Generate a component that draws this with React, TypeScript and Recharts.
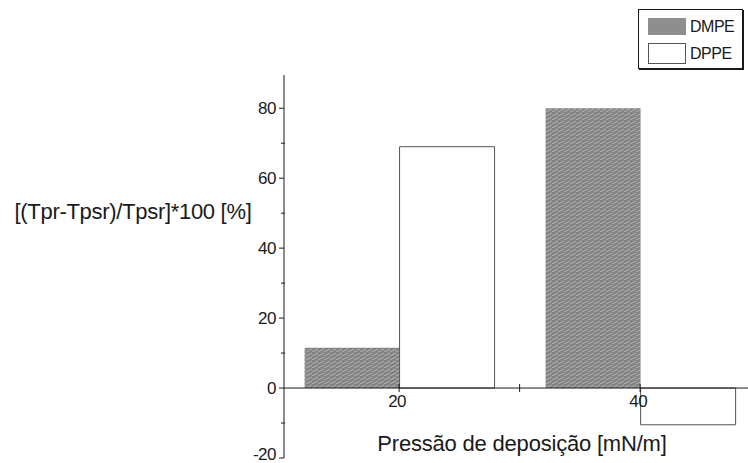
import {
  ComposedChart,
  Bar,
  XAxis,
  YAxis,
  ReferenceLine,
  ReferenceDot,
} from 'recharts';

const pressures = [20, 40];
const dmpe = [11.5, 80];
const dppe = [69, -10.5];

const yMajorTicks = [-20, 0, 20, 40, 60, 80];
const yMinorTicks = [-10, 10, 30, 50, 70];
const xTicks = [20, 30, 40];
const xTickLabels = ['20', '', '40'];

const data = pressures.map((p, i) => ({ p, DMPE: dmpe[i], DPPE: dppe[i] }));

const FONT = '"Liberation Sans", Arial, sans-serif';
const INK = '#1a1a1a';

function YTick(props: any) {
  const { x, y, payload } = props;
  const major = yMajorTicks.includes(payload.value);
  if (!major) {
    return <line x1={x - 3} x2={x + 1} y1={y} y2={y} stroke={INK} />;
  }
  // lowest label sits a little above its tick so it stays inside the frame
  const lift = payload.value === yMajorTicks[0] ? -4 : 0;
  return (
    <g>
      <line x1={x - 5} x2={x} y1={y} y2={y} stroke={INK} />
      <text
        x={x - 8}
        y={y + lift}
        dy="0.35em"
        textAnchor="end"
        fontSize={17}
        fontFamily={FONT}
        fill={INK}
        letterSpacing={-0.5}
      >
        {payload.value}
      </text>
    </g>
  );
}

function xTickShape(label: string) {
  return (props: any) => {
    const { cx, cy } = props;
    return (
      <g>
        <line x1={cx} x2={cx} y1={cy - 4} y2={cy + 4} stroke={INK} />
        {label && (
          <text
            x={cx - 2}
            y={cy + 19}
            textAnchor="middle"
            fontSize={17}
            fontFamily={FONT}
            fill={INK}
            letterSpacing={-0.5}
          >
            {label}
          </text>
        )}
      </g>
    );
  };
}

function LegendBox() {
  const row = { display: 'flex', alignItems: 'center', height: 27 } as const;
  return (
    <div
      style={{
        position: 'absolute',
        left: 638,
        top: 9,
        width: 105,
        height: 60,
        border: `1px solid ${INK}`,
        boxShadow: `1px 1px 0 ${INK}`,
        background: '#fff',
        fontFamily: FONT,
        fontSize: 16,
        color: INK,
        boxSizing: 'border-box',
        paddingLeft: 9,
        paddingTop: 3,
      }}
    >
      <div style={row}>
        <div style={{ width: 38, height: 17, background: '#8e8e8e' }} />
        <span style={{ marginLeft: 4, letterSpacing: -0.5 }}>DMPE</span>
      </div>
      <div style={row}>
        <div
          style={{
            width: 36,
            height: 19,
            border: '1px solid #555',
            background: '#fff',
          }}
        />
        <span style={{ marginLeft: 4, letterSpacing: -0.5 }}>DPPE</span>
      </div>
    </div>
  );
}

export default function App() {
  return (
    <div
      style={{
        position: 'absolute',
        left: 0,
        top: 0,
        width: 748,
        height: 463,
        background: '#fff',
      }}
    >
      <ComposedChart
        width={748}
        height={463}
        data={data}
        margin={{ top: 75, right: 0, bottom: 5, left: 224 }}
        barGap={0}
      >
        <defs>
          <pattern id="grain" width="6" height="4" patternUnits="userSpaceOnUse">
            <rect width="6" height="4" fill="#848484" />
            <line x1="0" y1="4" x2="6" y2="1" stroke="#b4b4b4" strokeWidth="1" />
          </pattern>
        </defs>
        <XAxis
          type="number"
          dataKey="p"
          domain={[10.45, 48.95]}
          allowDataOverflow
          hide
        />
        <YAxis
          type="number"
          domain={[-20, 89.5]}
          allowDataOverflow
          ticks={[...yMajorTicks, ...yMinorTicks].sort((a, b) => a - b)}
          interval={0}
          width={60}
          tickSize={0}
          tickMargin={0}
          tickLine={false}
          tick={<YTick />}
          axisLine={{ stroke: INK }}
        />
        <Bar
          dataKey="DMPE"
          barSize={95}
          fill="url(#grain)"
          isAnimationActive={false}
        />
        <Bar
          dataKey="DPPE"
          barSize={95}
          fill="#ffffff"
          stroke="#555555"
          strokeWidth={1}
          isAnimationActive={false}
        />
        <ReferenceLine y={0} stroke={INK} ifOverflow="extendDomain" />
        {xTicks.map((t, i) => (
          <ReferenceDot
            key={t}
            x={t}
            y={0}
            r={0}
            ifOverflow="visible"
            shape={xTickShape(xTickLabels[i])}
          />
        ))}
        <text
          x={133}
          y={219}
          textAnchor="middle"
          fontSize={22}
          fontFamily={FONT}
          fill={INK}
          letterSpacing={-0.3}
        >
          [(Tpr-Tpsr)/Tpsr]*100 [%]
        </text>
        <text
          x={522}
          y={451}
          textAnchor="middle"
          fontSize={22}
          fontFamily={FONT}
          fill={INK}
          letterSpacing={-0.2}
        >
          Pressão de deposição [mN/m]
        </text>
      </ComposedChart>
      <LegendBox />
    </div>
  );
}
